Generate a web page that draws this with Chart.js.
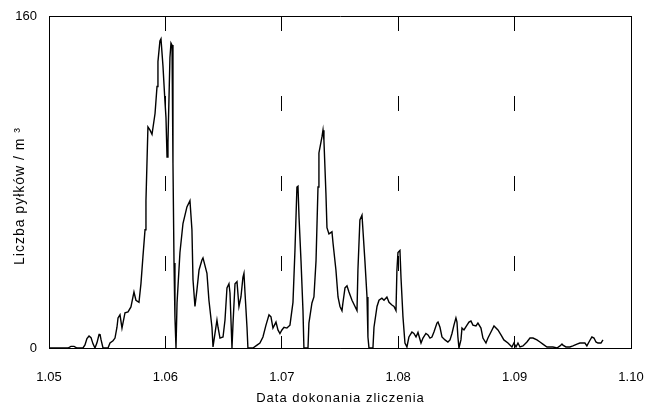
<!DOCTYPE html>
<html>
<head>
<meta charset="utf-8">
<script src="https://cdn.jsdelivr.net/npm/chart.js@4.4.1/dist/chart.umd.min.js"></script>
<style>
  html, body { margin: 0; padding: 0; background: #fff; }
  #c { display: block; }
</style>
</head>
<body>
<canvas id="c" width="647" height="409"></canvas>
<script>
// ---- data ----
const dates = [
  1.05000, 1.05163, 1.05189, 1.05215, 1.05241, 1.05292, 1.05309, 1.05326, 1.05344, 1.05361,
  1.05378, 1.05395, 1.05412, 1.05430, 1.05438, 1.05447, 1.05464, 1.05507, 1.05524, 1.05550,
  1.05567, 1.05584, 1.05593, 1.05610, 1.05627, 1.05653, 1.05679, 1.05704, 1.05730, 1.05747,
  1.05773, 1.05790, 1.05807, 1.05825, 1.05833, 1.05850, 1.05868, 1.05885, 1.05911, 1.05928,
  1.05936, 1.05953, 1.05962, 1.05979, 1.05996, 1.06005, 1.06014, 1.06022, 1.06039, 1.06048,
  1.06057, 1.06065, 1.06074, 1.06082, 1.06091, 1.06100, 1.06125, 1.06151, 1.06185, 1.06211,
  1.06228, 1.06237, 1.06254, 1.06271, 1.06289, 1.06314, 1.06323, 1.06357, 1.06374, 1.06400,
  1.06409, 1.06426, 1.06443, 1.06452, 1.06469, 1.06495, 1.06512, 1.06529, 1.06546, 1.06555,
  1.06572, 1.06581, 1.06598, 1.06615, 1.06632, 1.06649, 1.06666, 1.06675, 1.06684, 1.06701,
  1.06709, 1.06752, 1.06787, 1.06812, 1.06838, 1.06864, 1.06890, 1.06907, 1.06924, 1.06950,
  1.06967, 1.06984, 1.07001, 1.07019, 1.07044, 1.07070, 1.07096, 1.07113, 1.07130, 1.07139,
  1.07148, 1.07165, 1.07182, 1.07190, 1.07225, 1.07233, 1.07259, 1.07276, 1.07294, 1.07311,
  1.07319, 1.07345, 1.07354, 1.07362, 1.07379, 1.07388, 1.07405, 1.07431, 1.07440, 1.07465,
  1.07483, 1.07500, 1.07517, 1.07525, 1.07543, 1.07560, 1.07577, 1.07603, 1.07629, 1.07646,
  1.07654, 1.07671, 1.07689, 1.07697, 1.07714, 1.07732, 1.07740, 1.07749, 1.07783, 1.07792,
  1.07818, 1.07835, 1.07860, 1.07878, 1.07903, 1.07921, 1.07946, 1.07964, 1.07981, 1.07989,
  1.07998, 1.08015, 1.08024, 1.08041, 1.08058, 1.08075, 1.08092, 1.08118, 1.08135, 1.08153,
  1.08170, 1.08196, 1.08213, 1.08238, 1.08256, 1.08273, 1.08290, 1.08307, 1.08333, 1.08342,
  1.08359, 1.08376, 1.08402, 1.08427, 1.08445, 1.08462, 1.08479, 1.08496, 1.08505, 1.08513,
  1.08522, 1.08539, 1.08548, 1.08565, 1.08591, 1.08608, 1.08625, 1.08642, 1.08668, 1.08685,
  1.08711, 1.08728, 1.08754, 1.08771, 1.08797, 1.08823, 1.08857, 1.08883, 1.08908, 1.08943,
  1.08977, 1.08994, 1.09012, 1.09029, 1.09046, 1.09072, 1.09106, 1.09132, 1.09158, 1.09192,
  1.09218, 1.09243, 1.09278, 1.09329, 1.09364, 1.09390, 1.09407, 1.09415, 1.09441, 1.09475,
  1.09501, 1.09536, 1.09561, 1.09604, 1.09621, 1.09639, 1.09664, 1.09682, 1.09699, 1.09716,
  1.09742, 1.09759
];
const counts = [
  0, 0, 0.8, 0.8, 0, 0, 1.5, 4.5, 5.8, 5,
  2, 0, 2.5, 6.5, 6.7, 4, 0, 0, 2.4, 3.5,
  4.8, 10, 14.5, 16, 9.6, 17, 17.4, 19.8, 27, 23,
  22, 31, 44, 57, 71, 106.5, 105, 103, 113, 126,
  138, 148, 149, 136, 119, 111, 92, 99, 140, 147,
  146, 89, 41, 15, 0, 21.7, 46, 60, 68, 71,
  57, 33, 20, 28, 37.6, 42.4, 43.4, 36, 23, 10,
  0.5, 7, 13.5, 10, 4.8, 5.3, 13.5, 29, 31, 26.5,
  0, 12, 31, 32, 20, 24.6, 34, 36, 26.5, 10,
  0, 0, 1.4, 2.4, 5.3, 11, 16, 15, 9.6, 12.5,
  8.7, 7, 8.7, 10, 9.6, 11, 22, 47, 77.6, 78,
  63, 42, 18, 0, 0, 12, 21.7, 24.6, 42, 77.6,
  94, 101.7, 105, 100, 74.7, 58, 55, 56, 50.6, 37.6,
  24.6, 20, 18, 21.7, 29, 30, 27, 23, 20, 18,
  37.6, 61.7, 64, 57, 42, 24.6, 5.3, 0, 0, 10,
  20, 23, 24, 23, 24.6, 22, 20.7, 20, 18, 37.6,
  46, 47, 34, 15, 2.4, 0.5, 5.3, 7.7, 7, 5.3,
  7.5, 2.4, 4.8, 7, 6.3, 4.8, 5.3, 7.7, 12, 12.5,
  10, 5.3, 3.9, 2.9, 3.9, 7, 11, 14.5, 12.5, 5.3,
  0, 3.9, 9.6, 8.7, 11, 12.5, 13, 11, 10.6, 12,
  9.6, 4.8, 2.4, 4.8, 7.7, 10.6, 8.7, 6.3, 3.9, 2.4,
  0.5, 2.4, 0.5, 2.4, 0.5, 1, 2.9, 4.8, 4.8, 3.9,
  2.9, 1.9, 0.5, 0.5, 0, 1, 1.9, 1.4, 0.5, 0.5,
  1, 1.9, 2.4, 2.4, 1, 2.9, 5.3, 4.8, 2.9, 2.4,
  2.4, 3.9
];
const xTicks = [1.05, 1.06, 1.07, 1.08, 1.09, 1.10];
const yTicks = [0, 160];
const xTitle = 'Data dokonania zliczenia';
const yTitle = 'Liczba pyłków / m ³';

const FONT = '"Liberation Sans", Arial, sans-serif';

const points = dates.map((d, i) => ({ x: d, y: counts[i] }));

const framePlugin = {
  id: 'frameAndTitles',
  afterDraw(chart) {
    const ctx = chart.ctx;
    const a = chart.chartArea;
    ctx.save();
    ctx.setLineDash([]);
    ctx.strokeStyle = '#000';
    ctx.lineWidth = 1;
    const l = Math.round(a.left) + 0.5, t = Math.round(a.top) + 0.5;
    const r = Math.round(a.right) + 0.5, b = Math.round(a.bottom) + 0.5;
    ctx.beginPath();
    ctx.moveTo(l, t); ctx.lineTo(r, t); ctx.lineTo(r, b); ctx.lineTo(l, b); ctx.closePath();
    ctx.stroke();
    ctx.fillStyle = '#000';
    ctx.textAlign = 'center';
    ctx.textBaseline = 'middle';
    ctx.font = '13px ' + FONT;
    try { ctx.letterSpacing = '1px'; } catch (e) {}
    ctx.fillText(xTitle, (a.left + a.right) / 2 + 0.5, 398);
    ctx.translate(20, (a.top + a.bottom) / 2 + 14);
    ctx.rotate(-Math.PI / 2);
    ctx.font = '14px ' + FONT;
    try { ctx.letterSpacing = '1px'; } catch (e) {}
    ctx.fillText(yTitle, 0, 0);
    ctx.restore();
  }
};

new Chart(document.getElementById('c'), {
  type: 'line',
  data: {
    datasets: [{
      data: points,
      borderColor: '#000',
      borderWidth: 1.4,
      pointRadius: 0,
      tension: 0,
      fill: false
    }]
  },
  options: {
    responsive: false,
    animation: false,
    devicePixelRatio: 1,
    layout: { padding: { top: 16, right: 16, left: 0, bottom: 0 } },
    plugins: { legend: { display: false }, tooltip: { enabled: false } },
    scales: {
      x: {
        type: 'linear',
        min: xTicks[0],
        max: xTicks[xTicks.length - 1],
        afterFit(s) { s.height = 61; s.paddingLeft = 0; s.paddingRight = 0; },
        afterBuildTicks(s) { s.ticks = xTicks.map(v => ({ value: v })); },
        ticks: {
          color: '#000',
          font: { family: FONT, size: 13 },
          padding: 22,
          maxRotation: 0,
          autoSkip: false,
          callback: v => Number(v).toFixed(2)
        },
        grid: {
          color: '#000',
          lineWidth: 1,
          drawTicks: false,
          tickLength: 0
        },
        border: { display: true, color: '#000', width: 1, dash: [15, 65] }
      },
      y: {
        min: yTicks[0],
        max: yTicks[yTicks.length - 1],
        afterFit(s) { s.width = 49; s.paddingTop = 0; s.paddingBottom = 0; },
        afterBuildTicks(s) { s.ticks = yTicks.map(v => ({ value: v })); },
        ticks: {
          color: '#000',
          font: { family: FONT, size: 13 },
          padding: 12
        },
        grid: { display: false, drawTicks: false },
        border: { display: true, color: '#000', width: 1 }
      }
    }
  },
  plugins: [framePlugin]
});
</script>
</body>
</html>
